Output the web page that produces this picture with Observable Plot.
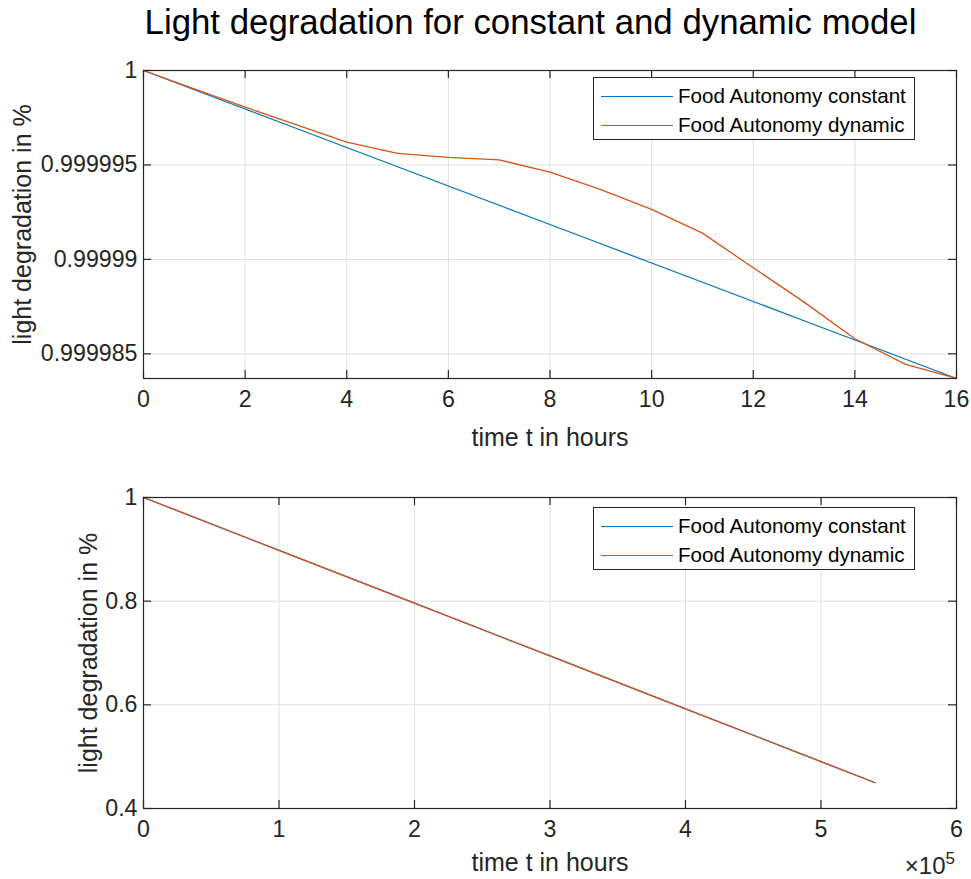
<!DOCTYPE html>
<html>
<head>
<meta charset="utf-8">
<script src="https://cdn.jsdelivr.net/npm/d3@7"></script>
<script src="https://cdn.jsdelivr.net/npm/@observablehq/plot@0.6"></script>
<style>
  html, body { margin: 0; padding: 0; background: white; }
  #root { position: relative; width: 971px; height: 879px; background: white; overflow: hidden;
          font-family: "Liberation Sans", Arial, Helvetica, sans-serif; color: #262626; }
  .title { position: absolute; left: 530.5px; top: 5px; transform: translateX(-50%); white-space: nowrap;
           font-size: 34.8px; line-height: 34px; color: #000; }
  .legend { position: absolute; width: 320px; height: 61px; border: 1px solid #262626; background: white; }
  .legend .sw { position: absolute; left: 7px; width: 72px; height: 0; border-top: 1.3px solid; }
  .legend .lb { position: absolute; left: 84px; font-size: 20.6px; line-height: 22px; white-space: nowrap; color: #000; }
</style>
</head>
<body>
<div id="root"></div>
<script>
// ---- data ----
const titleText = "Light degradation for constant and dynamic model";
const seriesNames = ["Food Autonomy constant", "Food Autonomy dynamic"];
const seriesColors = ["#0072BD", "#D95319"];
const yLabelText = "light degradation in %";
const xLabelText = "time t in hours";

// top panel (first 16 hours)
const hoursTop = [0, 1, 2, 3, 4, 5, 6, 7, 8, 9, 10, 11, 12, 13, 14, 15, 16];
const constantTop = [1, 0.999998981, 0.999997962, 0.999996943, 0.999995924, 0.999994905, 0.999993886,
  0.999992867, 0.999991848, 0.999990829, 0.99998981, 0.999988791, 0.999987772, 0.999986753,
  0.999985734, 0.999984715, 0.999983696];
const dynamicTop = [1, 0.99999903, 0.99999806, 0.99999713, 0.99999621, 0.99999561, 0.9999954,
  0.99999527, 0.99999462, 0.99999369, 0.99999265, 0.99999139, 0.99998956, 0.99998774,
  0.9999858, 0.99998444, 0.9999837];
const topXTicks = [0, 2, 4, 6, 8, 10, 12, 14, 16];
const topYTicks = [0.999985, 0.99999, 0.999995, 1];
const topXDomain = [0, 16];
const topYDomain = [0.999983696, 1];

// bottom panel (full lifetime)
const hoursBottom = [0, 100000, 200000, 300000, 400000, 500000, 540000];
const constantBottom = [1, 0.8981, 0.7962, 0.6943, 0.5924, 0.4905, 0.4497];
const dynamicBottom = [1, 0.8981, 0.7962, 0.6943, 0.5924, 0.4905, 0.4497];
const bottomXTicks = [0, 100000, 200000, 300000, 400000, 500000, 600000];
const bottomXTickLabels = ["0", "1", "2", "3", "4", "5", "6"];
const bottomYTicks = [0.4, 0.6, 0.8, 1];
const bottomXDomain = [0, 600000];
const bottomYDomain = [0.4, 1];
const exponentBase = "\u00d710";
const exponentPower = "5";

// ---- drawing ----
const W = 971, ML = 143, MR = 15, INK = "#262626", GRID = "#e0e0e0";
const FONT = "'Liberation Sans', Arial, Helvetica, sans-serif";
const TICK_FS = 23.2, LABEL_FS = 25;

function panel(cfg) {
  const {t, a, b, xTicks, yTicks, xDomain, yDomain, height, marginTop, marginBottom,
         yLabelDx, xLabelDy, xFormat, extra = []} = cfg;
  const iw = W - ML - MR, ih = height - marginTop - marginBottom;
  const rows = [
    ...t.map((x, i) => ({t: x, v: a[i], s: seriesNames[0]})),
    ...t.map((x, i) => ({t: x, v: b[i], s: seriesNames[1]}))
  ];
  return Plot.plot({
    width: W, height, marginLeft: ML, marginRight: MR, marginTop, marginBottom,
    style: {fontFamily: FONT, fontSize: TICK_FS + "px", color: INK, background: "white", overflow: "visible"},
    x: {domain: xDomain, axis: null},
    y: {domain: yDomain, axis: null},
    color: {domain: seriesNames, range: seriesColors},
    marks: [
      Plot.gridX(xTicks, {stroke: GRID, strokeOpacity: 1}),
      Plot.gridY(yTicks, {stroke: GRID, strokeOpacity: 1}),
      Plot.line(rows, {x: "t", y: "v", z: "s", stroke: "s", strokeWidth: 1.3}),
      Plot.frame({stroke: INK, strokeWidth: 1.2}),
      Plot.ruleX(xTicks, {x: d => d, insetBottom: ih - 8, stroke: INK, strokeWidth: 1.2}),
      Plot.ruleX(xTicks, {x: d => d, insetTop: ih - 8, stroke: INK, strokeWidth: 1.2}),
      Plot.ruleY(yTicks, {y: d => d, insetRight: iw - 8, stroke: INK, strokeWidth: 1.2}),
      Plot.ruleY(yTicks, {y: d => d, insetLeft: iw - 8, stroke: INK, strokeWidth: 1.2}),
      Plot.axisX(xTicks, {anchor: "bottom", tickSize: 0, tickPadding: 12, label: null,
        tickFormat: xFormat, fill: INK, fontSize: TICK_FS}),
      Plot.axisY(yTicks, {anchor: "left", tickSize: 0, tickPadding: 6, label: null,
        tickFormat: d => String(d), fill: INK, fontSize: TICK_FS}),
      Plot.text([yLabelText], {text: d => d, frameAnchor: "left", dx: yLabelDx, rotate: -90,
        textAnchor: "middle", lineAnchor: "middle", fontSize: LABEL_FS, fill: INK}),
      Plot.text([xLabelText], {text: d => d, frameAnchor: "bottom", dy: xLabelDy,
        textAnchor: "middle", lineAnchor: "middle", fontSize: LABEL_FS, fill: INK}),
      ...extra
    ]
  });
}

function legend(top) {
  const d = document.createElement("div");
  d.className = "legend";
  d.style.left = "593px";
  d.style.top = top + "px";
  seriesNames.forEach((name, i) => {
    const cy = 18 + i * 29;
    const sw = document.createElement("div");
    sw.className = "sw";
    sw.style.top = cy + "px";
    sw.style.borderTopColor = seriesColors[i];
    const lb = document.createElement("div");
    lb.className = "lb";
    lb.style.top = (cy - 11) + "px";
    lb.textContent = name;
    d.appendChild(sw);
    d.appendChild(lb);
  });
  return d;
}

const root = document.getElementById("root");

const title = document.createElement("div");
title.className = "title";
title.textContent = titleText;
root.appendChild(title);

const topPlot = panel({
  t: hoursTop, a: constantTop, b: dynamicTop, xTicks: topXTicks, yTicks: topYTicks,
  xDomain: topXDomain, yDomain: topYDomain, height: 410, marginTop: 20, marginBottom: 82,
  yLabelDx: -121, xLabelDy: 59, xFormat: d => String(d)
});
topPlot.style.position = "absolute";
topPlot.style.left = "0px";
topPlot.style.top = "50px";
root.appendChild(topPlot);

const bottomPlot = panel({
  t: hoursBottom, a: constantBottom, b: dynamicBottom, xTicks: bottomXTicks, yTicks: bottomYTicks,
  xDomain: bottomXDomain, yDomain: bottomYDomain, height: 409, marginTop: 27, marginBottom: 71,
  yLabelDx: -55, xLabelDy: 54, xFormat: (d, i) => bottomXTickLabels[i],
  extra: [
    Plot.text([exponentBase], {text: d => d, frameAnchor: "bottom-right", dx: -11, dy: 58,
      textAnchor: "end", lineAnchor: "middle", fontSize: 24, fill: INK}),
    Plot.text([exponentPower], {text: d => d, frameAnchor: "bottom-right", dx: -11, dy: 50,
      textAnchor: "start", lineAnchor: "middle", fontSize: 17, fill: INK})
  ]
});
bottomPlot.style.position = "absolute";
bottomPlot.style.left = "0px";
bottomPlot.style.top = "470px";
root.appendChild(bottomPlot);

root.appendChild(legend(77));
root.appendChild(legend(507));
</script>
</body>
</html>
